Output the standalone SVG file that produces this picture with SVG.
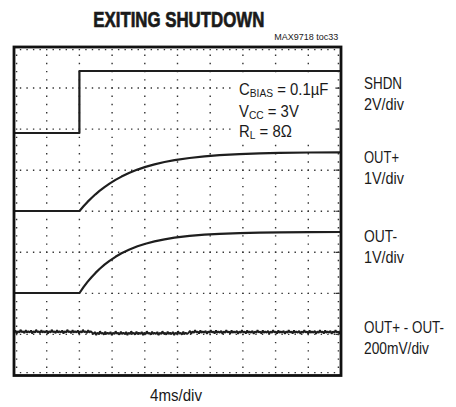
<svg xmlns="http://www.w3.org/2000/svg" width="456" height="407" viewBox="0 0 456 407">
<style>
.t{font-family:"Liberation Sans",Arial,sans-serif;fill:#1a1a1a}
.lbl{font-size:17px}
.vg{stroke:#333;stroke-width:1.4;stroke-dasharray:1.4 6.8125;fill:none}
.hg{stroke:#333;stroke-width:1.4;stroke-dasharray:1.4 5.14;fill:none}
.tr{stroke:#1e1e1e;stroke-width:2.2;fill:none;stroke-linejoin:round}
</style>
<defs>
<clipPath id="plot"><rect x="14" y="47" width="327" height="328.5"/></clipPath>
</defs>
<rect width="456" height="407" fill="#fff"/>
<g id="title">
<text class="t" x="93.3" y="26.7" font-size="21.5" font-weight="bold" stroke="#1a1a1a" stroke-width="0.7" textLength="171" lengthAdjust="spacingAndGlyphs">EXITING SHUTDOWN</text>
<text class="t" x="274.3" y="40" font-size="9.3" textLength="64" lengthAdjust="spacingAndGlyphs">MAX9718 toc33</text>
</g>
<g id="grid">
<path class="vg" d="M46.7,46.3V376M79.4,46.3V376M112.1,46.3V376M144.8,46.3V376M177.5,46.3V376M210.2,46.3V376M242.9,46.3V376M275.6,46.3V376M308.3,46.3V376M16.6,46.3V376M338.4,46.3V376"/>
<path class="hg" d="M13.3,88.06H342M13.3,129.1H342M13.3,170.2H342M13.3,211.25H342M13.3,252.3H342M13.3,293.4H342M13.3,334.4H342M13.3,49.6H342M13.3,372.6H342"/>
<path d="M335.5,88.06h4M335.5,129.1h4M335.5,170.2h4M335.5,211.25h4M335.5,252.3h4M335.5,293.4h4M335.5,334.4h4" stroke="#333" stroke-width="1.2"/>
</g>
<g id="params">
<rect x="231" y="75" width="104" height="68" fill="#fff"/>
<g class="t" font-size="16">
<text transform="translate(239 95) scale(0.93 1)">C<tspan font-size="11" dy="2.3">BIAS</tspan><tspan dy="-2.3"> = 0.1µF</tspan></text>
<text transform="translate(239 116.5) scale(0.93 1)">V<tspan font-size="11" dy="2.3">CC</tspan><tspan dy="-2.3"> = 3V</tspan></text>
<text transform="translate(239 137) scale(0.93 1)">R<tspan font-size="11" dy="2.3">L</tspan><tspan dy="-2.3"> = 8Ω</tspan></text>
</g>
</g>
<g id="traces">
<path id="shdn" class="tr" d="M14,133H79.4V71H341"/>
<path id="outp" class="tr" d="M14,211H79.5L83.5,206.3L87.5,201.9L91.5,197.95L95.5,194.3L99.5,190.9L104.5,187.05L109.5,183.6L115.5,179.9L121.5,176.6L129.5,172.8L137.5,169.6L145.5,166.9L154.5,164.4L164.5,162L174.5,160.2L189.5,158L204.5,156.4L219.5,155.2L239.5,154.1L259.5,153.4L279.5,152.9L309.5,152.5L341,152.3"/>
<path id="outm" class="tr" d="M14,293H79.5L83.5,287.2L87.5,281.9L91.5,277.2L95.5,272.9L99.5,269L104.5,264.7L109.5,260.8L115.5,256.8L121.5,253.3L129.5,249.5L137.5,246.3L145.5,243.7L154.5,241.4L164.5,239.3L174.5,237.7L189.5,235.9L204.5,234.7L219.5,233.8L239.5,233.1L259.5,232.7L279.5,232.4L309.5,232.2L341,232"/>
<path id="diff" clip-path="url(#plot)" stroke="#1e1e1e" stroke-width="1.9" fill="none" stroke-linejoin="bevel" d="M14,332.5
l1.4,-2l1.3,3l1.2,-2.4l1.5,1.5l1.1,-2.8l1.4,2.5l1.3,-1l1.2,1.9l1.4,-3l1.1,2.4l1.3,-1.4l1.4,1.3
l1.4,-2l1.3,3l1.2,-2.4l1.5,1.5l1.1,-2.8l1.4,2.5l1.3,-1l1.2,1.9l1.4,-3l1.1,2.4l1.3,-1.4l1.4,1.3
l1.4,-2l1.3,3l1.2,-2.4l1.5,1.5l1.1,-2.8l1.4,2.5l1.3,-1l1.2,1.9l1.4,-3l1.1,2.4l1.3,-1.4l1.4,1.3
l1.4,-2l1.3,3l1.2,-2.4l1.5,1.5l1.1,-2.8l1.4,2.5l1.3,-1l1.2,1.9l1.4,-3l1.1,2.4l1.3,-1.4l1.4,1.3
l1.4,-2l1.3,3l1.2,-2.4l1.5,1.5l1.1,-2.8l1.4,2.5l1.3,-1l1.2,1.9l1.4,-3l1.1,2.4l1.3,-1.4l1.4,1.3
l1.5,1.5
l1.4,-2l1.3,3l1.2,-2.4l1.5,1.5l1.1,-2.8l1.4,2.5l1.3,-1l1.2,1.9l1.4,-3l1.1,2.4l1.3,-1.4l1.4,1.3
l1.4,-2l1.3,3l1.2,-2.4l1.5,1.5l1.1,-2.8l1.4,2.5l1.3,-1l1.2,1.9l1.4,-3l1.1,2.4l1.3,-1.4l1.4,1.3
l1.4,-2l1.3,3l1.2,-2.4l1.5,1.5l1.1,-2.8l1.4,2.5l1.3,-1l1.2,1.9l1.4,-3l1.1,2.4l1.3,-1.4l1.4,1.3
l1.4,-2l1.3,3l1.2,-2.4l1.5,1.5l1.1,-2.8l1.4,2.5l1.3,-1l1.2,1.9l1.4,-3l1.1,2.4l1.3,-1.4l1.4,1.3
l1.4,-2l1.3,3l1.2,-2.4l1.5,1.5l1.1,-2.8l1.4,2.5l1.3,-1l1.2,1.9l1.4,-3l1.1,2.4l1.3,-1.4l1.4,1.3
l1.4,-2l1.3,3l1.2,-2.4l1.5,1.5l1.1,-2.8l1.4,2.5l1.3,-1l1.2,1.9l1.4,-3l1.1,2.4l1.3,-1.4l1.4,1.3
l1.5,-1.2
l1.4,-2l1.3,3l1.2,-2.4l1.5,1.5l1.1,-2.8l1.4,2.5l1.3,-1l1.2,1.9l1.4,-3l1.1,2.4l1.3,-1.4l1.4,1.3
l1.4,-2l1.3,3l1.2,-2.4l1.5,1.5l1.1,-2.8l1.4,2.5l1.3,-1l1.2,1.9l1.4,-3l1.1,2.4l1.3,-1.4l1.4,1.3
l1.4,-2l1.3,3l1.2,-2.4l1.5,1.5l1.1,-2.8l1.4,2.5l1.3,-1l1.2,1.9l1.4,-3l1.1,2.4l1.3,-1.4l1.4,1.3
l1.4,-2l1.3,3l1.2,-2.4l1.5,1.5l1.1,-2.8l1.4,2.5l1.3,-1l1.2,1.9l1.4,-3l1.1,2.4l1.3,-1.4l1.4,1.3
l1.4,-2l1.3,3l1.2,-2.4l1.5,1.5l1.1,-2.8l1.4,2.5l1.3,-1l1.2,1.9l1.4,-3l1.1,2.4l1.3,-1.4l1.4,1.3
l1.4,-2l1.3,3l1.2,-2.4l1.5,1.5l1.1,-2.8l1.4,2.5l1.3,-1l1.2,1.9l1.4,-3l1.1,2.4l1.3,-1.4l1.4,1.3
l1.4,-2l1.3,3l1.2,-2.4l1.5,1.5l1.1,-2.8l1.4,2.5l1.3,-1l1.2,1.9l1.4,-3l1.1,2.4l1.3,-1.4l1.4,1.3
l1.4,-2l1.3,3l1.2,-2.4l1.5,1.5l1.1,-2.8l1.4,2.5l1.3,-1l1.2,1.9l1.4,-3l1.1,2.4l1.3,-1.4l1.4,1.3
l1.4,-2l1.3,3l1.2,-2.4l1.5,1.5l1.1,-2.8l1.4,2.5l1.3,-1l1.2,1.9l1.4,-3l1.1,2.4l1.3,-1.4l1.4,1.3
l1.4,-2l1.3,3l1.2,-2.4l1.5,1.5l1.1,-2.8l1.4,2.5l1.3,-1l1.2,1.9l1.4,-3l1.1,2.4l1.3,-1.4l1.4,1.3
l1.4,-2l1.3,3l1.2,-2.4l1.5,1.5l1.1,-2.8l1.4,2.5l1.3,-1l1.2,1.9l1.4,-3l1.1,2.4l1.3,-1.4l1.4,1.3"/>
</g>
<rect id="frame" x="14" y="47" width="327" height="328.5" fill="none" stroke="#111" stroke-width="2.8"/>
<g id="labels" class="t lbl">
<text x="364" y="89" textLength="38" lengthAdjust="spacingAndGlyphs">SHDN</text>
<text x="364" y="110" textLength="40" lengthAdjust="spacingAndGlyphs">2V/div</text>
<text x="364" y="163" textLength="35" lengthAdjust="spacingAndGlyphs">OUT+</text>
<text x="364" y="184" textLength="40" lengthAdjust="spacingAndGlyphs">1V/div</text>
<text x="364" y="242" textLength="33" lengthAdjust="spacingAndGlyphs">OUT-</text>
<text x="364" y="263" textLength="40" lengthAdjust="spacingAndGlyphs">1V/div</text>
<text x="364" y="333" textLength="80" lengthAdjust="spacingAndGlyphs">OUT+ - OUT-</text>
<text x="364" y="354" textLength="65" lengthAdjust="spacingAndGlyphs">200mV/div</text>
<text x="150" y="400.5" textLength="52" lengthAdjust="spacingAndGlyphs">4ms/div</text>
</g>
</svg>
